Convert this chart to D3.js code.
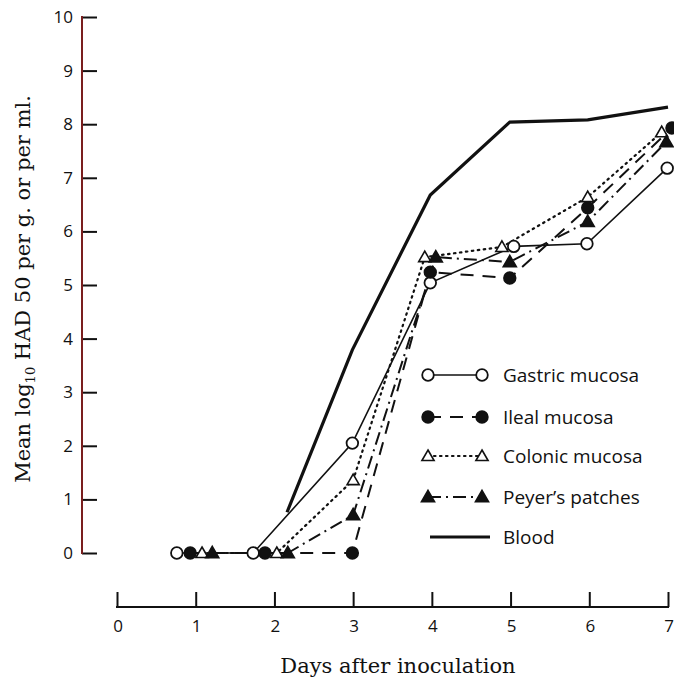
<!DOCTYPE html>
<html>
  <script src="https://cdn.jsdelivr.net/npm/d3@7"></script>
  <style>
    body { margin: 0; background: #fff; }
    svg { display: block; }
    .tick text, .leg text { font-family: "Open Sans", sans-serif; }
  </style>
  <body>
    <script>
// days are slightly offset per series in the original so markers don't overlap
var gastricX = [0.76, 1.73, 2.99, 3.98, 5.04, 5.97, 6.99]
  , gastricY = [0, 0, 2.05, 5.04, 5.72, 5.77, 7.18]
  , ilealX   = [0.93, 1.88, 2.99, 3.98, 4.99, 5.98, 7.05]
  , ilealY   = [0, 0, 0, 5.24, 5.13, 6.44, 7.93]
  , colonX   = [1.08, 2.03, 3.0, 3.91, 4.89, 5.98, 6.92]
  , colonY   = [0, 0, 1.36, 5.52, 5.71, 6.64, 7.85]
  , peyerX   = [1.21, 2.17, 3.0, 4.05, 4.99, 5.98, 6.98]
  , peyerY   = [0, 0, 0.71, 5.52, 5.43, 6.18, 7.67]
  , bloodX   = [2.16, 2.99, 3.98, 4.99, 5.98, 7.0]
  , bloodY   = [0.76, 3.79, 6.68, 8.04, 8.08, 8.32]
  , xTicks = [0, 1, 2, 3, 4, 5, 6, 7]
  , yTicks = [0, 1, 2, 3, 4, 5, 6, 7, 8, 9, 10]
  , names = ['Gastric mucosa', 'Ileal mucosa', 'Colonic mucosa', "Peyer\u2019s patches", 'Blood']

var width = 674, height = 678
var svg = d3.select('body').append('svg').attr('width', width).attr('height', height)
svg.append('rect').attr('width', width).attr('height', height).attr('fill', '#fff')

var x = d3.scaleLinear().domain([0, 7]).range([117, 668])
  , y = d3.scaleLinear().domain([0, 10]).range([553, 17])

// y axis, ticks pointing inward
var yAx = svg.append('g').attr('transform', 'translate(82,0)')
  .call(d3.axisRight(y).tickValues(yTicks).tickSize(15).tickFormat(''))
yAx.select('.domain').remove()
yAx.selectAll('.tick line').attr('stroke', '#111').attr('stroke-width', 2)
svg.append('line').attr('x1', 82).attr('x2', 82).attr('y1', y(10) - 1).attr('y2', y(0) + 1)
  .attr('stroke', '#7a1e1e').attr('stroke-width', 2)
svg.append('g').selectAll('text').data(yTicks).enter().append('text')
  .attr('x', 73).attr('y', function(d){ return y(d) + 6 })
  .attr('text-anchor', 'end').attr('font-family', '"Open Sans", sans-serif')
  .attr('font-size', 17).attr('fill', '#111').text(function(d){ return d })

// x axis is drawn separately, below the plot
var xAx = svg.append('g').attr('transform', 'translate(0,607)')
  .call(d3.axisTop(x).tickValues(xTicks).tickSize(15).tickFormat(''))
xAx.select('.domain').remove()
xAx.selectAll('.tick line').attr('stroke', '#111').attr('stroke-width', 2)
svg.append('line').attr('x1', x(0) - 1).attr('x2', x(7) + 1).attr('y1', 607).attr('y2', 607)
  .attr('stroke', '#111').attr('stroke-width', 2)
svg.append('g').selectAll('text').data(xTicks).enter().append('text')
  .attr('x', function(d){ return x(d) + 1 }).attr('y', 632)
  .attr('text-anchor', 'middle').attr('font-family', '"Open Sans", sans-serif')
  .attr('font-size', 17).attr('fill', '#111').text(function(d){ return d })

// axis titles
svg.append('text').attr('x', 398).attr('y', 673).attr('text-anchor', 'middle')
  .attr('font-family', '"DejaVu Serif", serif').attr('font-size', 21).attr('fill', '#111')
  .text('Days after inoculation')
var yt = svg.append('text').attr('transform', 'translate(30,289) rotate(-90)')
  .attr('text-anchor', 'middle').attr('font-family', '"DejaVu Serif", serif')
  .attr('font-size', 21).attr('fill', '#111')
yt.append('tspan').text('Mean log')
yt.append('tspan').attr('font-size', 13).attr('dy', 5).text('10')
yt.append('tspan').attr('dy', -5).text(' HAD 50 per g. or per ml.')

function pts(xs, ys){ return xs.map(function(d, i){ return [d, ys[i]] }) }
var line = d3.line().x(function(d){ return x(d[0]) }).y(function(d){ return y(d[1]) })

var series = [
  { data: pts(gastricX, gastricY), dash: null, w: 1.6, sym: 'circle', fill: '#fff' },
  { data: pts(ilealX, ilealY), dash: '13,9', w: 2, sym: 'circle', fill: '#111' },
  { data: pts(colonX, colonY), dash: '1.5,4.5', w: 2.2, sym: 'tri', fill: '#fff' },
  { data: pts(peyerX, peyerY), dash: '13,5,2,5', w: 2, sym: 'tri', fill: '#111' },
  { data: pts(bloodX, bloodY), dash: null, w: 3.2, sym: null }
]

var lines = svg.append('g').attr('fill', 'none').attr('stroke', '#111')
series.forEach(function(s){
  lines.append('path').attr('d', line(s.data))
    .attr('stroke-width', s.w).attr('stroke-dasharray', s.dash)
    .attr('stroke-linecap', s.dash === '1.5,4.5' ? 'round' : 'butt')
})

function marker(g, s, cx, cy){
  if (s.sym === 'circle') {
    g.append('circle').attr('cx', cx).attr('cy', cy).attr('r', 5.8)
      .attr('fill', s.fill).attr('stroke', '#111').attr('stroke-width', 1.8)
  } else {
    g.append('path').attr('transform', 'translate(' + cx + ',' + (cy + 1) + ')')
      .attr('d', d3.symbol(d3.symbolTriangle, s.fill === '#fff' ? 64 : 74)())
      .attr('fill', s.fill).attr('stroke', '#111').attr('stroke-width', 1.6)
  }
}
var marks = svg.append('g')
series.forEach(function(s){
  if (!s.sym) return
  s.data.forEach(function(d){ marker(marks, s, x(d[0]), y(d[1])) })
})

// legend
var legY = [375, 417, 456, 497, 537]
var leg = svg.append('g').attr('class', 'leg')
series.forEach(function(s, i){
  var g = leg.append('g')
  if (s.sym) {
    g.append('line').attr('x1', 428).attr('x2', 482).attr('y1', legY[i]).attr('y2', legY[i])
      .attr('stroke', '#111').attr('stroke-width', s.w).attr('stroke-dasharray', s.dash)
      .attr('stroke-linecap', s.dash === '1.5,4.5' ? 'round' : 'butt')
    marker(g, s, 428, legY[i]); marker(g, s, 482, legY[i])
  } else {
    g.append('line').attr('x1', 430).attr('x2', 490).attr('y1', legY[i]).attr('y2', legY[i])
      .attr('stroke', '#111').attr('stroke-width', s.w)
  }
  g.append('text').attr('x', 503).attr('y', legY[i] + 7).attr('font-size', 19)
    .attr('fill', '#111').text(names[i])
})
    </script>
  </body>
</html>
